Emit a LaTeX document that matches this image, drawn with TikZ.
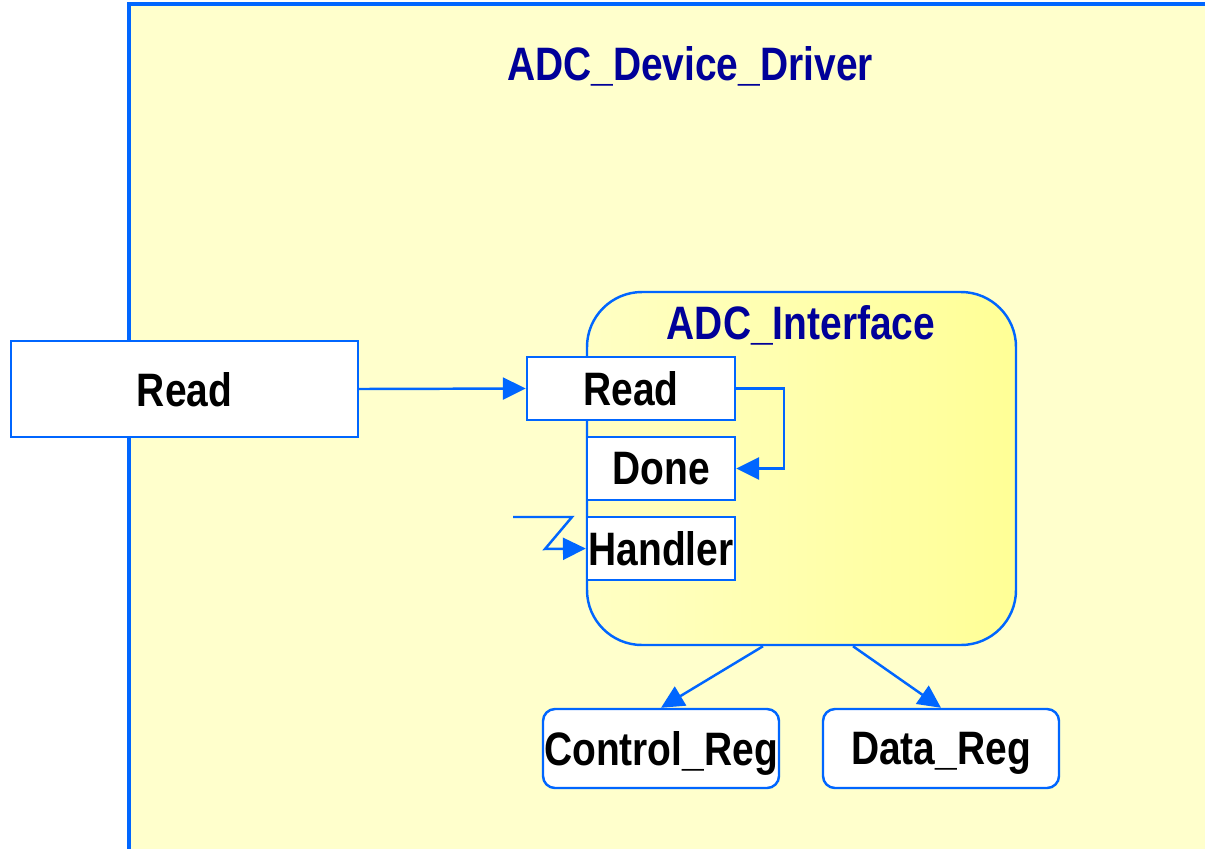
\documentclass[tikz,border=0pt]{standalone}
\usepackage{fontspec}
\setmainfont{Liberation Sans}[FakeStretch=0.83]
\usetikzlibrary{arrows.meta}

\definecolor{edgeblue}{RGB}{0,102,255}
\definecolor{navy}{RGB}{0,0,153}
\definecolor{paleyellow}{RGB}{255,255,204}
\definecolor{ifaceleft}{RGB}{255,255,196}
\definecolor{ifaceright}{RGB}{255,255,150}

\tikzset{
  lbl/.style={font=\fontsize{26.7}{30}\selectfont\bfseries,text depth=0pt},
  portbox/.style={lbl,draw=edgeblue,line width=1.4pt,fill=white,inner sep=0pt,minimum height=1.26cm},
  regbox/.style={portbox,rounded corners=0.24cm,minimum width=4.72cm,minimum height=1.58cm},
  wire/.style={edgeblue,line width=1.4pt,-{Triangle[length=13pt,width=12.5pt]}},
}

\begin{document}
\begin{tikzpicture}[]
\useasboundingbox (0,0) rectangle (24.1,-16.96);

%%%% driver
%%%%
\draw[edgeblue,line width=2pt,fill=paleyellow] (2.58,-0.08) rectangle (24.6,-17.4);
\node[lbl,text=navy](drvtitle) at(13.8,-1.26) {ADC\_Device\_Driver};

%%%% interface
%%%%
\node[draw=edgeblue,line width=1.4pt,left color=ifaceleft,right color=ifaceright,
  rounded corners=1.1cm,minimum width=8.58cm,minimum height=7.06cm](iface) at(16.03,-9.37) {};
\node[lbl,text=navy](ifacetitle) at(16.02,-6.44) {ADC\_Interface};

\node[portbox,minimum width=6.94cm,minimum height=1.92cm](outread) at(3.69,-7.78) {Read};
\node[portbox,minimum width=4.16cm](inread) at(12.62,-7.77) {Read};
\foreach[count=\i] \n \t in{
done/Done,handler/Handler%
}{
\node[portbox,minimum width=2.96cm](\n) at(13.22,-7.77-1.6*\i) {\t};
}

%%%% registers
%%%%
\node[regbox](ctrl) at(13.22,-14.97) {Control\_Reg};
\node[regbox](data) at(18.82,-14.97) {Data\_Reg};

%%%% wires
%%%%
\draw[wire] (outread.east) -- (inread.west);
\draw[wire] (inread.east) -- ++(0.96,0) |- (done.east);

\coordinate(irq) at(10.26,-10.34);
\draw[wire] (irq) -- ++(1.18,0) -- ++(-0.54,-0.64) -- (handler.west);

\foreach \dx \v in{
-0.77/ctrl,1.03/data%
}{
\draw[wire] ([xshift=\dx cm]iface.south) -- (\v.north);
}

\end{tikzpicture}
\end{document}
